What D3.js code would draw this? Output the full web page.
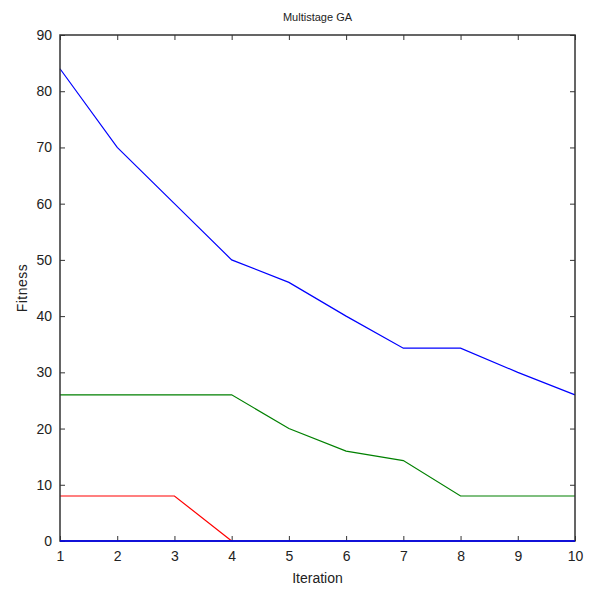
<!DOCTYPE html>
<html>
<head>
<meta charset="utf-8">
<script src="https://cdn.jsdelivr.net/npm/d3@7"></script>
<style>
  body { margin: 0; background: #fff; }
  text { font-family: "Liberation Sans", Arial, sans-serif; fill: #222; }
</style>
</head>
<body>
<div class="chart"></div>
<script>
// data
var iterations = [1, 2, 3, 4, 5, 6, 7, 8, 9, 10];
var blueSeries = [84, 70, 60, 50, 46, 40, 34.3, 34.3, 30, 26];
var greenSeries = [26, 26, 26, 26, 20, 16, 14.3, 8, 8, 8];
var redSeries = [8, 8, 8, 0];
var zeroSeries = [0, 0, 0, 0, 0, 0, 0, 0, 0, 0];
var yTicks = [0, 10, 20, 30, 40, 50, 60, 70, 80, 90];

var svgWidth = 590;
var svgHeight = 592;

var margin = { top: 35, bottom: 51, right: 15, left: 60 };
var width = svgWidth - margin.left - margin.right;
var height = svgHeight - margin.top - margin.bottom;

var svg = d3.select(".chart")
  .append("svg")
  .attr("width", svgWidth)
  .attr("height", svgHeight);

var chartGroup = svg.append("g")
  .attr("transform", `translate(${margin.left}, ${margin.top})`);

var xScale = d3.scaleLinear().domain([1, 10]).range([0, width]);
var yScale = d3.scaleLinear().domain([0, 90]).range([height, 0]);

// lines
var line = d3.line()
  .x((d, i) => xScale(iterations[i]))
  .y(d => yScale(d));

var series = [
  { values: blueSeries, color: "#0000ff" },
  { values: greenSeries, color: "#008000" },
  { values: redSeries, color: "#ff0000" },
  { values: zeroSeries, color: "#0000ff" }
];

series.forEach(function(s) {
  chartGroup.append("path")
    .datum(s.values)
    .attr("fill", "none")
    .attr("stroke", s.color)
    .attr("stroke-width", 1.2)
    .attr("d", line);
});

// axes (box on, ticks inward on all sides)
var axisColor = "#333";
function styleAxis(g, showLabels) {
  g.select(".domain").remove();
  g.selectAll(".tick line").attr("stroke", axisColor).attr("stroke-width", 1);
  g.selectAll(".tick text")
    .style("font-size", "14px")
    .style("font-family", "'Liberation Sans', Arial, sans-serif")
    .attr("fill", "#222");
  if (!showLabels) g.selectAll(".tick text").remove();
}

chartGroup.append("g")
  .attr("transform", `translate(0, ${height})`)
  .call(d3.axisBottom(xScale).tickValues(iterations).tickSizeInner(-5).tickPadding(10))
  .call(g => styleAxis(g, true));

chartGroup.append("g")
  .call(d3.axisTop(xScale).tickValues(iterations).tickSizeInner(-5))
  .call(g => styleAxis(g, false));

chartGroup.append("g")
  .call(d3.axisLeft(yScale).tickValues(yTicks).tickSizeInner(-5).tickPadding(8))
  .call(g => styleAxis(g, true));

chartGroup.append("g")
  .attr("transform", `translate(${width}, 0)`)
  .call(d3.axisRight(yScale).tickValues(yTicks).tickSizeInner(-5))
  .call(g => styleAxis(g, false));

chartGroup.append("rect")
  .attr("x", 0).attr("y", 0)
  .attr("width", width).attr("height", height)
  .attr("fill", "none")
  .attr("stroke", axisColor)
  .attr("stroke-width", 1.5);

// redraw zero line on top of the box border
chartGroup.append("path")
  .datum(zeroSeries)
  .attr("fill", "none")
  .attr("stroke", "#0000ff")
  .attr("stroke-width", 1.5)
  .attr("d", line);

// titles
svg.append("text")
  .attr("x", margin.left + width / 2)
  .attr("y", 21)
  .attr("text-anchor", "middle")
  .style("font-size", "11px")
  .text("Multistage GA");

svg.append("text")
  .attr("x", margin.left + width / 2)
  .attr("y", 583)
  .attr("text-anchor", "middle")
  .style("font-size", "14px")
  .text("Iteration");

svg.append("text")
  .attr("transform", `translate(27, ${margin.top + height / 2}) rotate(-90)`)
  .attr("text-anchor", "middle")
  .style("font-size", "14px")
  .style("letter-spacing", "0.5px")
  .text("Fitness");
</script>
</body>
</html>
